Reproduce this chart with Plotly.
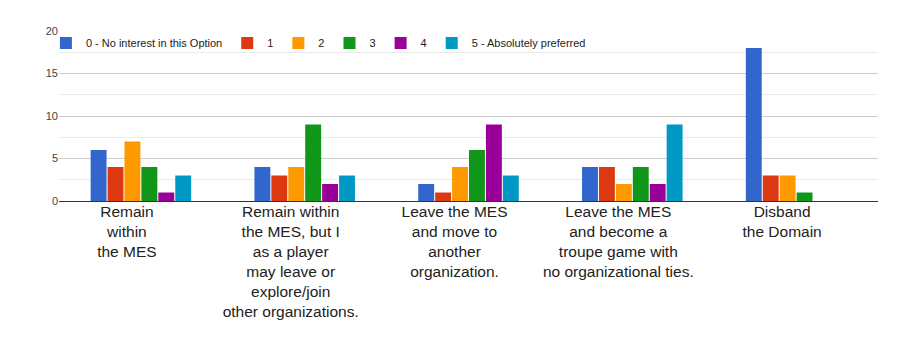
import plotly.graph_objects as go

categories = [
    "Remain<br>within<br>the MES",
    "Remain within<br>the MES, but I<br>as a player<br>may leave or<br>explore/join<br>other organizations.",
    "Leave the MES<br>and move to<br>another<br>organization.",
    "Leave the MES<br>and become a<br>troupe game with<br>no organizational ties.",
    "Disband<br>the Domain",
]
series_names = ["0 - No interest in this Option", "1", "2", "3", "4", "5 - Absolutely preferred"]
series_values = [
    [6, 4, 2, 4, 18],
    [4, 3, 1, 4, 3],
    [7, 4, 4, 2, 3],
    [4, 9, 6, 4, 1],
    [1, 2, 9, 2, 0],
    [3, 3, 3, 9, 0],
]
colors = ["#3366cc", "#dc3912", "#ff9900", "#109618", "#990099", "#0099c6"]

fig = go.Figure()
for name, vals, c in zip(series_names, series_values, colors):
    fig.add_trace(go.Bar(x=categories, y=vals, name=name, marker=dict(color=c, line=dict(width=0))))

fig.update_layout(
    width=919, height=349,
    margin=dict(l=59, r=41, t=31, b=148),
    paper_bgcolor="white", plot_bgcolor="white",
    barmode="group", bargap=0.38, bargroupgap=0.06,
    font=dict(family="Liberation Sans, Arial, sans-serif", color="#222"),
    legend=dict(orientation="h", x=-0.016, xanchor="left", y=1.015, yanchor="top",
                font=dict(size=11, color="#222"), bgcolor="rgba(0,0,0,0)",
                itemwidth=30, traceorder="normal"),
    xaxis=dict(showgrid=False, tickfont=dict(size=15.5, color="#222"), ticks="",
               ticklabelshift=-14, ticklabelstandoff=-4,
               showline=True, linecolor="#333", linewidth=1),
    yaxis=dict(range=[0, 20], dtick=5, tickfont=dict(size=11, color="#444"),
               gridcolor="#cccccc", zeroline=False, ticks="",
               minor=dict(dtick=2.5, showgrid=True, gridcolor="#ebebeb")),
)
fig.write_html("out.html")
